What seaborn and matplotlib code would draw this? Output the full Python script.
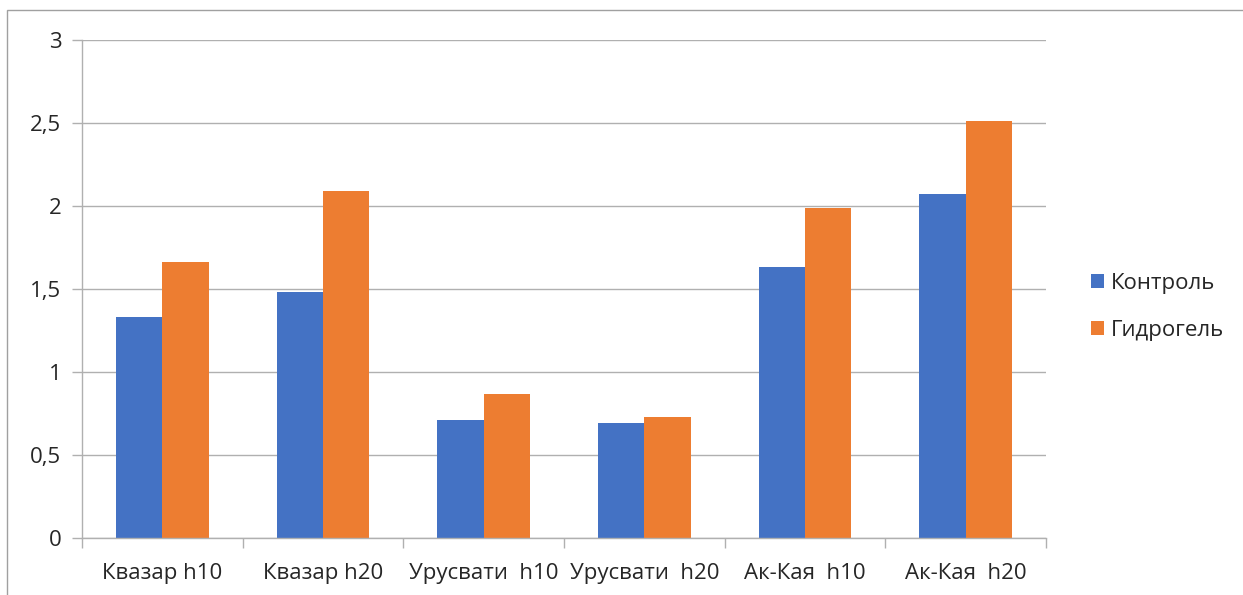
import numpy as np
import pandas as pd
import matplotlib
matplotlib.use("Agg")
import matplotlib.pyplot as plt
from matplotlib.patches import Rectangle
import seaborn as sns

categories = ["Квазар h10", "Квазар h20", "Урусвати  h10", "Урусвати  h20",
              "Ак-Кая  h10", "Ак-Кая  h20"]
control = [1.33, 1.48, 0.71, 0.69, 1.63, 2.07]
hydrogel = [1.66, 2.09, 0.87, 0.73, 1.99, 2.51]
series = ["Контроль", "Гидрогель"]
colors = ["#4472C4", "#ED7D31"]

df = pd.DataFrame({
    "cat": categories * 2,
    "val": control + hydrogel,
    "series": [series[0]] * len(categories) + [series[1]] * len(categories),
})

sns.set_style("white")
plt.rcParams["font.family"] = ["Open Sans", "DejaVu Sans"]

fig = plt.figure(figsize=(12.43, 5.95), dpi=100)
ax = fig.add_axes([0.066, 0.0958, 0.7755, 0.837])

sns.barplot(data=df, x="cat", y="val", hue="series", palette=colors,
            width=0.575, saturation=1, linewidth=0, ax=ax, legend=True)

grid_c = "#b0b0b0"
ax.set_ylim(0, 3)
ax.set_xlim(-0.5, len(categories) - 0.5)
ax.set_yticks(np.arange(0, 3.01, 0.5))
ax.set_yticklabels(["0", "0,5", "1", "1,5", "2", "2,5", "3"])
ax.yaxis.grid(True, color=grid_c, linewidth=1)
ax.set_axisbelow(True)
ax.set_xlabel("")
ax.set_ylabel("")

ax.set_xticks(np.arange(-0.5, len(categories), 1.0), minor=True)
ax.tick_params(axis="x", which="major", bottom=False, length=0, pad=18,
               labelsize=16)
ax.tick_params(axis="x", which="minor", bottom=True, length=7, color=grid_c,
               width=1)
ax.tick_params(axis="y", left=True, length=7, color=grid_c, width=1, pad=8,
               labelsize=16)

for s in ["top", "right"]:
    ax.spines[s].set_visible(False)
for s in ["left", "bottom"]:
    ax.spines[s].set_color(grid_c)
    ax.spines[s].set_linewidth(1)

ax.legend(loc="center left", bbox_to_anchor=(1.026, 0.464), frameon=False,
          fontsize=16, handlelength=0.6, handleheight=0.6, handletextpad=0.3,
          labelspacing=1.15)

fig.patches.append(Rectangle((7 / 1243, -0.1), 1.5, 1.1 - 10 / 595,
                             transform=fig.transFigure, fill=False,
                             edgecolor="#a0a0a0", linewidth=1))

fig.savefig("out.png", dpi=100)
